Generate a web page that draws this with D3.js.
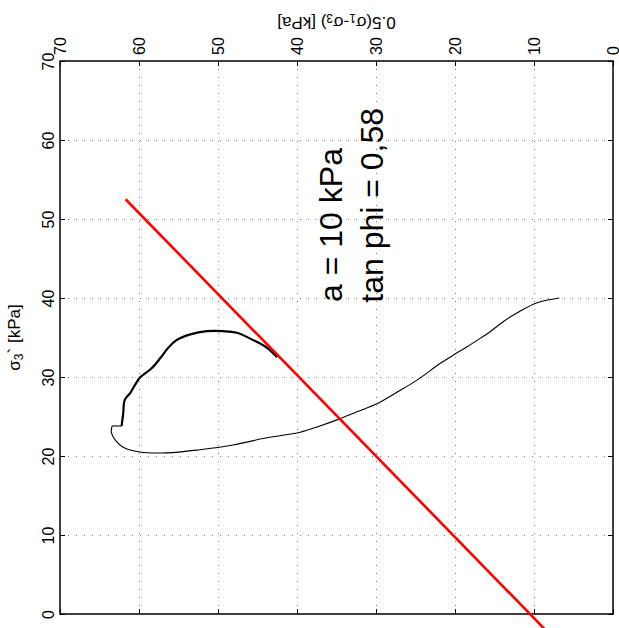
<!DOCTYPE html>
<html lang="en">
<head>
  <meta charset="UTF-8">
  <title>Stress path</title>
  <script src="https://d3js.org/d3.v7.min.js"></script>
  <style>
    body { margin: 0; background: #fff; }
    svg { display: block; font-family: "Liberation Sans", Arial, sans-serif; }
  </style>
</head>
<body>
<svg id="chart" width="619" height="628"></svg>
<script>
// axis ticks (same for both axes)
const tickValues = [0, 10, 20, 30, 40, 50, 60, 70];

// stress path, lower (thin) branch: sigma3' [kPa] and 0.5(s1-s3) [kPa]
const pathLowS = [40.0, 39.4, 38.2, 37.0, 35.7, 34.7, 33.8, 32.9, 31.7, 29.6, 28.1, 26.6, 25.6, 24.7, 23.8, 23.0, 22.3, 21.4, 20.8, 20.4, 20.5, 21.1, 22.0, 23.0, 23.8];
const pathLowQ = [6.8, 9.6, 12.0, 13.9, 15.6, 17.1, 18.5, 20.0, 21.9, 24.8, 27.3, 29.9, 32.4, 34.6, 37.1, 39.6, 43.8, 48.1, 52.3, 56.5, 59.9, 62.0, 63.0, 63.5, 63.4];

// short step between the branches
const stepS = [23.8, 23.8];
const stepQ = [63.4, 62.2];

// stress path, upper (thick) branch
const pathHighS = [23.8, 25.4, 27.1, 28.0, 29.0, 29.9, 31.1, 32.4, 33.7, 34.7, 35.4, 35.8, 35.8, 35.6, 34.7, 33.7, 32.5];
const pathHighQ = [62.2, 62.0, 61.8, 61.1, 60.5, 59.9, 58.4, 57.3, 56.3, 55.2, 53.5, 51.4, 49.4, 47.6, 45.6, 43.8, 42.5];

// failure line end points
const envelopeS = [52.5, -3.5];
const envelopeQ = [61.7, 7.1];

// annotation texts and where they start (sigma3', q)
const notes = ["a = 10 kPa", "tan phi = 0,58"];
const noteS = [39.5, 39.4];
const noteQ = [34.3, 29.1];

const svg = d3.select("#chart");
const mLeft = 60, mRight = 613, mTop = 61, mBottom = 614;

// sigma3' runs up the page, q runs right to left
const y = d3.scaleLinear().domain([0, 70]).range([mBottom, mTop]);
const x = d3.scaleLinear().domain([0, 70]).range([mRight, mLeft]);

// dotted grid
const inner = tickValues.slice(1, -1);
const grid = svg.append("g").attr("stroke", "#777").attr("stroke-width", 1).attr("stroke-dasharray", "1,7");
grid.selectAll(".gy").data(inner).enter().append("line")
  .attr("x1", mLeft).attr("x2", mRight)
  .attr("y1", d => Math.round(y(d)) + 0.5).attr("y2", d => Math.round(y(d)) + 0.5);
grid.selectAll(".gx").data(inner).enter().append("line")
  .attr("y1", mTop).attr("y2", mBottom)
  .attr("x1", d => Math.round(x(d)) + 0.5).attr("x2", d => Math.round(x(d)) + 0.5);

// axes
const yAxis = svg.append("g").attr("transform", `translate(${mLeft},0)`)
  .call(d3.axisLeft(y).tickValues(tickValues).tickSizeInner(-5).tickSizeOuter(0).tickPadding(6));
yAxis.selectAll("text")
  .attr("x", null).attr("dy", null)
  .attr("text-anchor", "middle")
  .attr("transform", "translate(-6,0) rotate(-90)");

const xAxis = svg.append("g").attr("transform", `translate(0,${mTop})`)
  .call(d3.axisTop(x).tickValues(tickValues).tickSizeInner(-5).tickSizeOuter(0).tickPadding(6));
xAxis.selectAll("text")
  .attr("y", null).attr("dy", "0.35em")
  .attr("text-anchor", "start")
  .attr("transform", "translate(0,-6) rotate(-90)");

svg.append("g").attr("transform", `translate(${mRight},0)`)
  .call(d3.axisRight(y).tickValues(tickValues).tickSizeInner(-5).tickSizeOuter(0).tickFormat(""));
svg.append("g").attr("transform", `translate(0,${mBottom})`)
  .call(d3.axisBottom(x).tickValues(tickValues).tickSizeInner(-5).tickSizeOuter(0).tickFormat(""));

svg.selectAll(".tick text").attr("font-size", 16).attr("fill", "#000").attr("font-family", "Liberation Sans, Arial, sans-serif");
svg.selectAll(".tick line").attr("stroke", "#000");
svg.selectAll(".domain").remove();

svg.append("rect")
  .attr("x", mLeft).attr("y", mTop)
  .attr("width", mRight - mLeft).attr("height", mBottom - mTop)
  .attr("fill", "none").attr("stroke", "#000").attr("stroke-width", 1.5);

// axis titles
const yTitle = svg.append("text")
  .attr("transform", `translate(20,${(mTop + mBottom) / 2}) rotate(-90)`)
  .attr("text-anchor", "middle").attr("font-size", 17);
yTitle.append("tspan").text("σ");
yTitle.append("tspan").attr("baseline-shift", "-25%").attr("font-size", 12).text("3");
yTitle.append("tspan").text("` [kPa]");

const xTitle = svg.append("text")
  .attr("transform", `translate(${(mLeft + mRight) / 2},17) rotate(180)`)
  .attr("text-anchor", "middle").attr("font-size", 17);
xTitle.append("tspan").text("0.5(σ");
xTitle.append("tspan").attr("baseline-shift", "-25%").attr("font-size", 12).text("1");
xTitle.append("tspan").text("-σ");
xTitle.append("tspan").attr("baseline-shift", "-25%").attr("font-size", 12).text("3");
xTitle.append("tspan").text(") [kPa]");

// stress path
const smooth = d3.line().curve(d3.curveCatmullRom.alpha(0.5)).x(d => x(d[1])).y(d => y(d[0]));
const straight = d3.line().x(d => x(d[1])).y(d => y(d[0]));
svg.append("path")
  .datum(d3.zip(pathLowS, pathLowQ))
  .attr("d", smooth)
  .attr("fill", "none").attr("stroke", "#000").attr("stroke-width", 1.1);
svg.append("path")
  .datum(d3.zip(stepS, stepQ))
  .attr("d", straight)
  .attr("fill", "none").attr("stroke", "#000").attr("stroke-width", 1.1);
svg.append("path")
  .datum(d3.zip(pathHighS, pathHighQ))
  .attr("d", smooth)
  .attr("fill", "none").attr("stroke", "#000").attr("stroke-width", 2.2)
  .attr("stroke-linejoin", "round");

// failure envelope
svg.append("path")
  .datum(d3.zip(envelopeS, envelopeQ))
  .attr("d", straight)
  .attr("fill", "none").attr("stroke", "#ff0000").attr("stroke-width", 2.6);

// annotations
svg.selectAll(".note").data(notes).enter().append("text")
  .attr("class", "note")
  .attr("transform", (d, i) => `translate(${x(noteQ[i])},${y(noteS[i])}) rotate(-90)`)
  .attr("font-size", 32)
  .text(d => d);
</script>
</body>
</html>
